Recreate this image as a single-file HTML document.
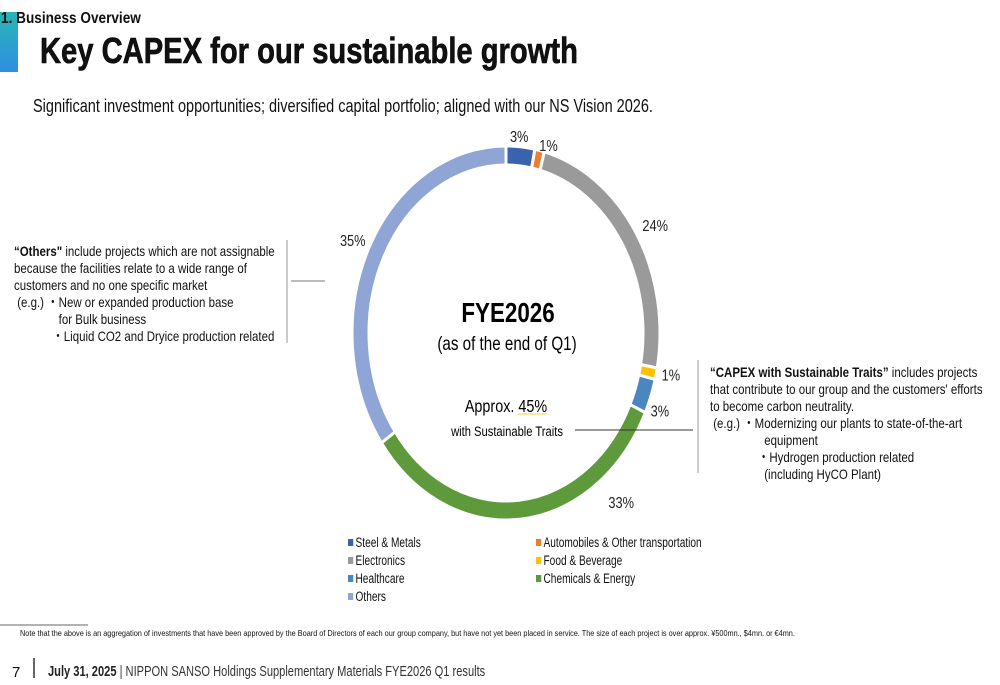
<!DOCTYPE html>
<html><head><meta charset="utf-8">
<style>
body{margin:0;width:1000px;height:685px;overflow:hidden;background:#fff;font-family:"Liberation Sans",sans-serif;color:#111;position:relative}
.a{position:absolute;white-space:nowrap;transform-origin:0 0}
.t{font-size:14px;line-height:17px;transform:scaleX(.82)}
</style></head><body>
<div class="a" style="left:0;top:12px;width:18px;height:60px;background:linear-gradient(#2ab5b5,#2e8fe0)"></div>
<div class="a" style="left:1px;top:10px;font-size:16px;font-weight:bold;transform:scaleX(.85)">1. Business Overview</div>
<div class="a" style="left:40px;top:30px;font-size:36px;font-weight:bold;transform:scaleX(.81);-webkit-text-stroke:0.6px #000">Key CAPEX for our sustainable growth</div>
<div class="a" style="left:33px;top:96px;font-size:18px;transform:scaleX(.805)">Significant investment opportunities; diversified capital portfolio; aligned with our NS Vision 2026.</div>

<div class="a t" style="left:14px;top:243px">
<b>“Others"</b> include projects which are not assignable<br>because the facilities relate to a wide range of<br>customers and no one specific market<br>&nbsp;(e.g.) ・New or expanded production base<br>&nbsp;&nbsp;&nbsp;&nbsp;&nbsp;&nbsp;&nbsp;&nbsp;&nbsp;&nbsp;&nbsp;&nbsp;&nbsp;&nbsp;for Bulk business<br>&nbsp;&nbsp;&nbsp;&nbsp;&nbsp;&nbsp;&nbsp;&nbsp;&nbsp;&nbsp;&nbsp;&nbsp;・Liquid CO2 and Dryice production related</div>

<div class="a t" style="left:710px;top:364px">
<b>“CAPEX with Sustainable Traits”</b> includes projects<br>that contribute to our group and the customers' efforts<br>to become carbon neutrality.<br>&nbsp;(e.g.) ・Modernizing our plants to state-of-the-art<br>&nbsp;&nbsp;&nbsp;&nbsp;&nbsp;&nbsp;&nbsp;&nbsp;&nbsp;&nbsp;&nbsp;&nbsp;&nbsp;&nbsp;&nbsp;&nbsp;&nbsp;equipment<br>&nbsp;&nbsp;&nbsp;&nbsp;&nbsp;&nbsp;&nbsp;&nbsp;&nbsp;&nbsp;&nbsp;&nbsp;&nbsp;&nbsp;&nbsp;・Hydrogen production related<br>&nbsp;&nbsp;&nbsp;&nbsp;&nbsp;&nbsp;&nbsp;&nbsp;&nbsp;&nbsp;&nbsp;&nbsp;&nbsp;&nbsp;&nbsp;&nbsp;&nbsp;(including HyCO Plant)</div>

<svg class="a" style="left:0;top:0" width="1000" height="685" font-family="Liberation Sans, sans-serif">
<g id="ring"></g>
<g id="lbls" font-size="16" fill="#222"></g>
<text transform="translate(508,322) scale(.8,1)" text-anchor="middle" font-size="28" font-weight="bold">FYE2026</text>
<text transform="translate(507,350) scale(.8,1)" text-anchor="middle" font-size="19">(as of the end of Q1)</text>
<text transform="translate(506,412) scale(.8,1)" text-anchor="middle" font-size="18">Approx. 45%</text>
<line x1="518" y1="414" x2="547" y2="414" stroke="#f6e9a0" stroke-width="2"/>
<text transform="translate(507,436) scale(.8,1)" text-anchor="middle" font-size="14">with Sustainable Traits</text>
<line x1="575" y1="430" x2="693" y2="430" stroke="#333"/>
<line x1="698" y1="360" x2="698" y2="473" stroke="#999"/>
<line x1="287" y1="240" x2="287" y2="343" stroke="#999"/>
<line x1="291" y1="281" x2="325" y2="281" stroke="#777"/>
<line x1="0" y1="625" x2="88" y2="625" stroke="#666"/>
<line x1="34" y1="658" x2="34" y2="678" stroke="#333" stroke-width="1.5"/>
</svg>

<div class="a" id="legend" style="left:348px;top:534px;font-size:13.5px;line-height:18px"></div>

<div class="a" style="left:20px;top:628px;font-size:8.6px;transform:scaleX(.85)">Note that the above is an aggregation of investments that have been approved by the Board of Directors of each our group company, but have not yet been placed in service. The size of each project is over approx. ¥500mn., $4mn. or €4mn.</div>
<div class="a" style="left:12px;top:664px;font-size:15px">7</div>
<div class="a" style="left:48px;top:663px;font-size:15px;color:#333;transform:scaleX(.74)"><b style="color:#222">July 31, 2025</b> | NIPPON SANSO Holdings Supplementary Materials FYE2026 Q1 results</div>

<script>
const categories=["Steel & Metals","Automobiles & Other transportation","Electronics","Food & Beverage","Healthcare","Chemicals & Energy","Others"];
const values=[3,1,24,1,3,33,35];
const valueLabels=["3%","1%","24%","1%","3%","33%","35%"];
const colors=["#3a62ad","#ed7d31","#9a9a9a","#ffc000","#4a86c0","#5e9a3c","#8fa5d6"];
const cx=506,cy=333,rxO=154,ryO=187,rxI=137,ryI=168;
const total=values.reduce((a,b)=>a+b,0);
function pt(a,rx,ry){return [cx+rx*Math.sin(a),cy-ry*Math.cos(a)];}
function ang(v){return v/total*2*Math.PI;}
const ring=document.getElementById('ring'),lbls=document.getElementById('lbls');
const NS='http://www.w3.org/2000/svg';
const labelNudge=[[-3,7],[5,12],[4,2],[-3,-3],[-8,8],[99,-35],[0,0]];
let acc=0;
values.forEach((v,i)=>{
 const a0=ang(acc),a1=ang(acc+v);acc+=v;
 const large=(a1-a0)>Math.PI?1:0;
 const p0=pt(a0,rxO,ryO),p1=pt(a1,rxO,ryO),q1=pt(a1,rxI,ryI),q0=pt(a0,rxI,ryI);
 const p=document.createElementNS(NS,'path');
 p.setAttribute('d',`M${p0[0]},${p0[1]} A${rxO},${ryO} 0 ${large} 1 ${p1[0]},${p1[1]} L${q1[0]},${q1[1]} A${rxI},${ryI} 0 ${large} 0 ${q0[0]},${q0[1]} Z`);
 p.setAttribute('fill',colors[i]);p.setAttribute('stroke','#fff');p.setAttribute('stroke-width','3');
 
 
 ring.appendChild(p);
 const am=(a0+a1)/2,l=pt(am,172,205);
 const t=document.createElementNS(NS,'text');
 t.setAttribute('transform',`translate(${l[0]+labelNudge[i][0]},${l[1]+6+labelNudge[i][1]}) scale(.8,1)`);
 t.setAttribute('text-anchor','middle');t.textContent=valueLabels[i];
 
 
 lbls.appendChild(t);
});
const lg=document.getElementById('legend');
categories.forEach((c,i)=>{
 const d=document.createElement('div');
 d.style.position='absolute';d.style.whiteSpace='nowrap';
 d.style.left=(i%2?188:0)+'px';d.style.top=(Math.floor(i/2)*18)+'px';
 d.style.transform='scaleX(.75)';d.style.transformOrigin='0 0';
 d.innerHTML=`<span style="display:inline-block;width:7px;height:7px;background:${colors[i]};margin-right:3px;vertical-align:1px"></span>${c}`;
 
 
 lg.appendChild(d);
});
</script>
</body></html>
